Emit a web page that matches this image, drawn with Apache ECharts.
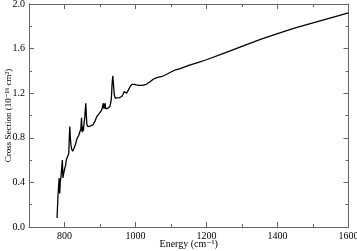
<!DOCTYPE html>
<html><head><meta charset="utf-8">
<script src="https://cdn.jsdelivr.net/npm/echarts@6/dist/echarts.min.js"></script>
<style>html,body{margin:0;padding:0;background:#fff}#c{width:357px;height:251px}</style>
</head><body><div id="c"></div>
<script>
const energy = [779,782,785,786.5,788,790,792,794,795.5,797,799,801,803,805,807,810,812,813.5,815,816.5,818,820,823,826,830,835,840,844,846,848,849.5,851,853,855,857,858.5,860,861.5,863,866,872,880,886,891,898,905,908,909.5,911,913,914.5,916,922,928,932,934,936,938,940,943,948,955,961,965,968,971,975,980,985,990,996,1002,1010,1020,1030,1040,1050,1060,1075,1088,1100,1113,1126,1150,1175,1200,1250,1300,1350,1400,1450,1500,1550,1600];
const crossSection = [0.08,0.30,0.44,0.30,0.40,0.45,0.44,0.60,0.44,0.45,0.50,0.53,0.55,0.60,0.61,0.61,0.66,0.80,0.90,0.80,0.74,0.70,0.68,0.69,0.73,0.79,0.82,0.83,0.88,0.98,0.85,0.90,0.86,0.93,0.98,1.05,1.11,1.00,0.92,0.90,0.905,0.915,0.95,0.99,1.02,1.05,1.06,1.11,1.06,1.07,1.11,1.06,1.065,1.08,1.15,1.28,1.355,1.28,1.19,1.155,1.15,1.16,1.17,1.19,1.215,1.20,1.20,1.23,1.26,1.28,1.28,1.275,1.27,1.27,1.28,1.30,1.325,1.34,1.35,1.37,1.39,1.41,1.42,1.45,1.475,1.50,1.56,1.62,1.68,1.735,1.785,1.83,1.875,1.92];
const xMajorTicks = [800,1000,1200,1400,1600];
const xMinorTicks = [900,1100,1300,1500];
const xLabel = 'Energy (cm⁻¹)';
const yLabel = 'Cross Section (10⁻¹⁶ cm²)';

const font = '"Liberation Serif", "DejaVu Serif", serif';
const axisCol = '#666';
const xBase = {type:'value', min:700, max:1600, gridIndex:0};
function xAx(pos, ticks, len, labels, line){
  return Object.assign({}, xBase, {
    position: pos,
    axisLine:{show:line, lineStyle:{color:axisCol, width:1}},
    axisTick:{show:true, inside:true, length:len, customValues:ticks, lineStyle:{color:axisCol}},
    axisLabel:{show:labels, customValues:ticks, color:'#000', fontFamily:font, fontSize:10, margin:4, formatter:v=>String(v), hideOverlap:false},
    splitLine:{show:false}
  });
}
const xAxes = [
  Object.assign(xAx('bottom', xMajorTicks, 5, true, true), {name:xLabel, nameLocation:'middle', nameGap:12, nameMoveOverlap:false, nameTextStyle:{color:'#000', fontFamily:font, fontSize:10, verticalAlign:'top'}}),
  xAx('bottom', xMinorTicks, 3, false, false),
  xAx('top', xMajorTicks, 5, false, true),
  xAx('top', xMinorTicks, 3, false, false)
];
function yAx(pos, labels){
  return {type:'value', min:0, max:2, interval:0.4, position:pos,
    axisLine:{show:true, lineStyle:{color:axisCol, width:1}},
    axisTick:{show:true, inside:true, length:5, lineStyle:{color:axisCol}},
    minorTick:{show:true, splitNumber:2, length:3, lineStyle:{color:axisCol}},
    axisLabel:{show:labels, color:'#000', fontFamily:font, fontSize:10, margin:4, formatter:v=>v.toFixed(1)},
    splitLine:{show:false}
  };
}
const yAxes = [
  Object.assign(yAx('left', true), {name:yLabel, nameLocation:'middle', nameGap:16, nameMoveOverlap:false, nameTextStyle:{color:'#000', fontFamily:font, fontSize:9}}),
  yAx('right', false)
];
const chart = echarts.init(document.getElementById('c'), null, {renderer:'canvas'});
chart.setOption({
  animation:false,
  backgroundColor:'#fff',
  grid:{left:29, right:8.5, top:4, bottom:24, containLabel:false, outerBoundsMode:'none'},
  xAxis:xAxes,
  yAxis:yAxes,
  series:[{type:'line', xAxisIndex:0, yAxisIndex:0, data:energy.map((e,i)=>[e,crossSection[i]]), showSymbol:false, symbol:'none', lineStyle:{color:'#000', width:1.3}, smooth:false}]
});
</script></body></html>
